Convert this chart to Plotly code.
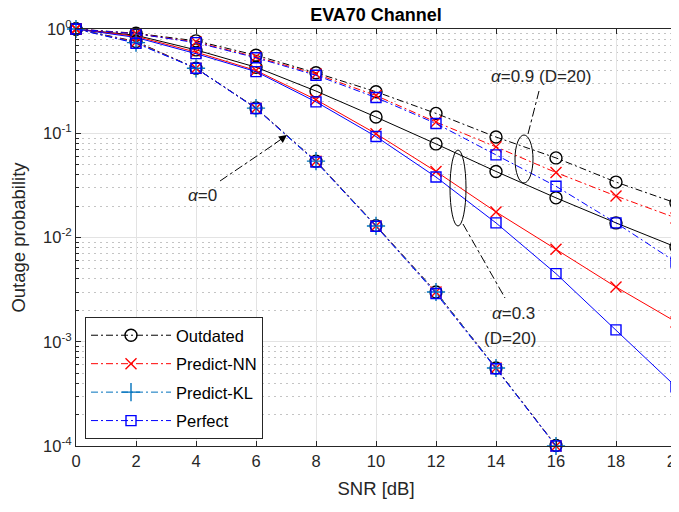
import plotly.graph_objects as go

snr = [0, 2, 4, 6, 8, 10, 12, 14, 16, 18, 20]
snr_a0 = [0, 2, 4, 6, 8, 10, 12, 14, 16]

# alpha = 0 (all schemes nearly identical)
out_a0 = [1.0, 0.76, 0.42, 0.175, 0.054, 0.0130, 0.0030, 0.00056, 0.000101]
nn_a0 = [1.0, 0.75, 0.42, 0.174, 0.054, 0.0129, 0.0030, 0.00056, 0.000100]
kl_a0 = [1.0, 0.74, 0.42, 0.174, 0.054, 0.0129, 0.0030, 0.00056, 0.000100]
perf_a0 = [1.0, 0.73, 0.42, 0.173, 0.053, 0.0128, 0.0029, 0.00055, 0.000100]

# alpha = 0.3 (D=20), solid lines
out_a3 = [1.0, 0.87, 0.63, 0.43, 0.254, 0.143, 0.079, 0.043, 0.024, 0.0138, 0.0081]
nn_a3 = [1.0, 0.85, 0.60, 0.40, 0.21, 0.099, 0.043, 0.0176, 0.0077, 0.00335, 0.00155]
perf_a3 = [1.0, 0.83, 0.58, 0.39, 0.20, 0.093, 0.038, 0.0138, 0.0045, 0.0013, 0.00037]

# alpha = 0.9 (D=20), dash-dot lines
out_a9 = [1.0, 0.91, 0.77, 0.56, 0.38, 0.25, 0.155, 0.092, 0.058, 0.034, 0.0214]
nn_a9 = [1.0, 0.90, 0.75, 0.54, 0.37, 0.23, 0.128, 0.074, 0.042, 0.025, 0.0154]
perf_a9 = [1.0, 0.90, 0.74, 0.53, 0.36, 0.22, 0.124, 0.062, 0.031, 0.0138, 0.0058]

ytick_vals = [1e-4, 1e-3, 1e-2, 1e-1, 1]
ytick_text = ["10<sup>-4</sup>", "10<sup>-3</sup>", "10<sup>-2</sup>", "10<sup>-1</sup>", "10<sup>0</sup>"]
xtick_vals = [0, 2, 4, 6, 8, 10, 12, 14, 16, 18, 20]

BLACK = "#000000"
RED = "#FF0000"
KL = "#0072BD"
BLUE = "#0000FF"
DASHDOT = "7px,3px,2px,3px"
FONT = "Liberation Sans, Arial, sans-serif"

styles = {
    "Outdated": dict(color=BLACK, symbol="circle-open", size=12),
    "Predict-NN": dict(color=RED, symbol="x-thin-open", size=11),
    "Predict-KL": dict(color=KL, symbol="cross-thin-open", size=13),
    "Perfect": dict(color=BLUE, symbol="square-open", size=10),
}

fig = go.Figure()


def add(name, x, y, dash, legend):
    s = styles[name]
    fig.add_trace(go.Scatter(
        x=x, y=y, mode="lines+markers", name=name,
        showlegend=legend, legendgroup=name if legend else None,
        line=dict(color=s["color"], width=1, dash=dash),
        marker=dict(symbol=s["symbol"], size=s["size"], color=s["color"],
                    line=dict(color=s["color"], width=1.4)),
        cliponaxis=False,
    ))


# alpha = 0.3
add("Outdated", snr, out_a3, "solid", False)
add("Predict-NN", snr, nn_a3, "solid", False)
add("Perfect", snr, perf_a3, "solid", False)
# alpha = 0.9
add("Outdated", snr, out_a9, DASHDOT, False)
add("Predict-NN", snr, nn_a9, DASHDOT, False)
add("Perfect", snr, perf_a9, DASHDOT, False)
# alpha = 0 (legend entries)
add("Outdated", snr_a0, out_a0, DASHDOT, True)
add("Predict-NN", snr_a0, nn_a0, DASHDOT, True)
add("Predict-KL", snr_a0, kl_a0, DASHDOT, True)
add("Perfect", snr_a0, perf_a0, DASHDOT, True)

# page body has an 8px margin: figure drawn at (8, 8) in the window
OFF = 8
PL, PR, PT, PB = 76, 676, 29, 446  # plot area in window pixels
W, H = 679 - OFF, 512 - OFF
ML, MT = PL - OFF, PT - OFF
MR = W - (PR - OFF)
MB = H - (PB - OFF)


def px(xp):
    return (xp - PL) / (PR - PL)


def py(yp):
    return (PB - yp) / (PB - PT)


line_kw = dict(color=BLACK, width=1, dash="dashdot")
shapes = [
    dict(type="circle", xref="paper", yref="paper", x0=px(450), x1=px(466), y0=py(226), y1=py(150),
         line=dict(color=BLACK, width=1)),
    dict(type="circle", xref="paper", yref="paper", x0=px(515), x1=px(533), y0=py(183), y1=py(135),
         line=dict(color=BLACK, width=1)),
    dict(type="line", xref="paper", yref="paper", x0=px(463), y0=py(224), x1=px(505), y1=py(298),
         line=line_kw),
    dict(type="line", xref="paper", yref="paper", x0=px(528), y0=py(134), x1=px(539), y1=py(91),
         line=line_kw),
    dict(type="line", xref="paper", yref="paper", x0=px(220), y0=py(181), x1=px(276), y1=py(143),
         line=line_kw),
]

afont = dict(family=FONT, size=17, color="#262626")
ann_kw = dict(xref="paper", yref="paper", showarrow=False, font=afont,
              xanchor="center", yanchor="middle")
annotations = [
    dict(xref="paper", yref="paper", x=px(287), y=py(135), ax=-14, ay=10, text="",
         showarrow=True, arrowhead=2, arrowsize=1.6, arrowwidth=1, arrowcolor=BLACK),
    dict(x=px(541), y=py(77), text="<i>α</i>=0.9 (D=20)", **ann_kw),
    dict(x=px(513), y=py(313), text="<i>α</i>=0.3", **ann_kw),
    dict(x=px(510), y=py(338), text="(D=20)", **ann_kw),
    dict(x=px(202), y=py(195), text="<i>α</i>=0", **ann_kw),
]

axis_common = dict(
    showline=True, linecolor="#262626", linewidth=1, mirror="ticks",
    ticks="inside", ticklen=5, tickcolor="#262626", automargin=False,
    showgrid=True, gridcolor="#e3e3e3", gridwidth=1, zeroline=False,
    tickfont=dict(family=FONT, size=16.5, color="#262626"),
)

fig.update_layout(
    width=W, height=H,
    margin=dict(l=ML, r=MR, t=MT, b=MB),
    plot_bgcolor="white", paper_bgcolor="white",
    title=dict(text="<b>EVA70 Channel</b>", x=0.5, xref="paper", y=1, yref="container",
               yanchor="top", pad=dict(t=0, b=0),
               font=dict(family=FONT, size=18, color="#000000")),
    xaxis=dict(range=[0, 20], tickvals=xtick_vals, ticklabeloverflow="allow",
               title=dict(text="SNR [dB]", standoff=13,
                          font=dict(family=FONT, size=18.5, color="#262626")),
               **axis_common),
    yaxis=dict(type="log", range=[-4, 0], tickvals=ytick_vals, ticktext=ytick_text,
               title=dict(text="Outage probability", standoff=16,
                          font=dict(family=FONT, size=18.5, color="#262626")),
               minor=dict(dtick="D1", ticks="inside", ticklen=3, tickcolor="#262626",
                          showgrid=True, gridcolor="#c4c4c4", griddash="2px,4px", gridwidth=1),
               **axis_common),
    legend=dict(x=px(85), y=py(317), xanchor="left", yanchor="top",
                bgcolor="white", bordercolor="#262626", borderwidth=1,
                font=dict(family=FONT, size=16.5, color="#000000"),
                itemwidth=80, tracegroupgap=4, traceorder="grouped"),
    shapes=shapes,
    annotations=annotations,
)

fig.write_html("out.html")
